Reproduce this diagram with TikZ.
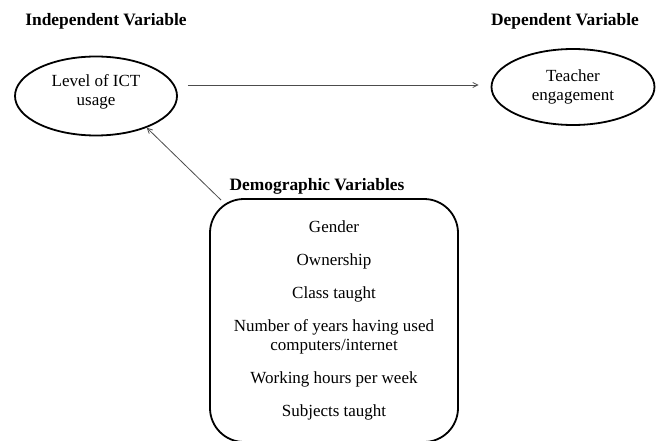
\documentclass[tikz,border=0pt]{standalone}
\usepackage{fontspec}
\setmainfont{Liberation Serif}
\usepackage{tikz}
\usetikzlibrary{arrows.meta,positioning,shapes.geometric}

\begin{document}
\begin{tikzpicture}[
    x=1pt, y=-1pt,
    >={Straight Barb[length=5pt,width=5pt]},
    font=\fontsize{17}{18.5}\selectfont,
    heading/.style={font=\fontsize{17.4}{18.5}\selectfont\bfseries, inner sep=0pt},
    varoval/.style={draw=black, line width=1.8pt, ellipse, align=center, inner sep=0pt},
    demobox/.style={draw=black, line width=1.8pt, rounded corners=34pt, align=center, minimum width=248pt, minimum height=243pt, inner sep=0pt},
    link/.style={->, line width=0.8pt, black!70}
]
\useasboundingbox (0,0) rectangle (659,441);
\node[heading] (indtitle) at (106,21) {Independent Variable};
\node[heading] (deptitle) at (565,21) {Dependent Variable};
\node[heading] (demotitle) at (317,186) {Demographic Variables};
\node[varoval, minimum width=162pt, minimum height=79pt] (ict) at (96,96) {Level of ICT\\usage\\[-6.5pt]};
\node[varoval, minimum width=163pt, minimum height=76pt] (eng) at (573,87) {Teacher\\engagement};
\node[demobox] (demo) at (334,320.5) {Gender\\[14.5pt]
    Ownership\\[14.5pt]
    Class taught\\[14.5pt]
    Number of years having used\\computers/internet\\[14.5pt]
    Working hours per week\\[14.5pt]
    Subjects taught};
\draw[link] ([xshift=10pt]ict.east |- 0,85) -- ([xshift=-12pt]eng.west |- 0,85);
\draw[link] ([xshift=12pt,yshift=-2pt]demo.north west) -- (ict.-32);
\end{tikzpicture}
\end{document}
